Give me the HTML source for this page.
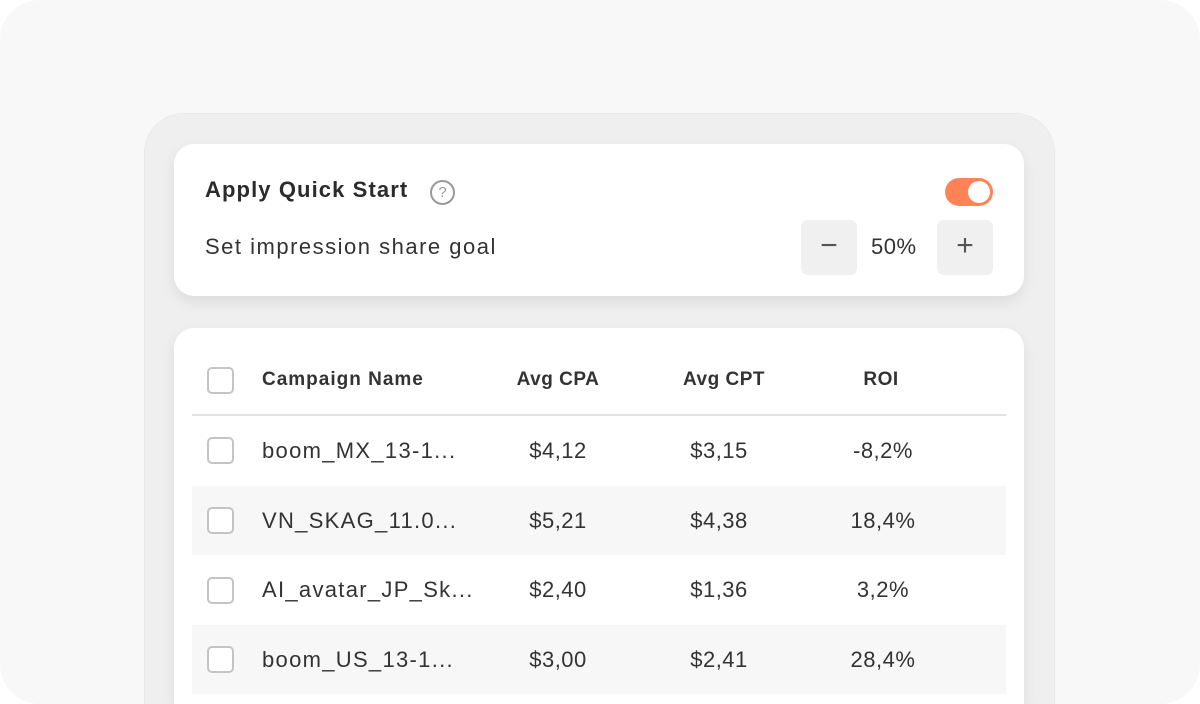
<!DOCTYPE html><html style="width:1200px;height:704px;overflow:hidden"><head><style>
*{box-sizing:border-box;margin:0;padding:0}
body{width:1200px;height:704px;background:#fff;font-family:"Liberation Sans",sans-serif;color:#333;overflow:hidden;position:relative}
.outer{position:absolute;left:0;top:0;width:1200px;height:704px;background:#f8f8f8;border-radius:40px;overflow:hidden}
.panel{position:absolute;left:144px;top:113px;width:911px;height:591px;background:#efefef;border-radius:40px 40px 0 0;border:1px solid #e9e9e9;border-bottom:none}
.card{position:absolute;left:174px;width:850px;background:#fff;border-radius:20px;box-shadow:0 6px 14px rgba(0,0,0,.08)}
.t{position:absolute;white-space:nowrap}
.cb{position:absolute;left:207px;width:27px;height:27px;border:2px solid #c4c4c4;border-radius:5px;background:#fff}
.btn{position:absolute;top:220px;width:56px;height:55px;background:#f0f0f0;border-radius:7px;font-size:30px;color:#555;text-align:center;line-height:52px}
.row{position:absolute;left:192px;width:814px;height:69px;background:#f7f7f7}
.c{position:absolute;font-size:22px;color:#333;text-align:center;width:160px;letter-spacing:.5px}
.n{font-size:22px;letter-spacing:1.3px}
</style></head><body>
<div class="outer">
<div class="panel"></div>
<div class="card" style="top:144px;height:152px"></div>
<div class="t" style="left:205px;top:177px;font-size:22px;font-weight:bold;color:#2b2b2b;letter-spacing:1.1px">Apply Quick Start</div>
<div class="t" style="left:430px;top:180px;width:25px;height:25px;border:2px solid #999;border-radius:50%;font-size:15px;color:#999;text-align:center;line-height:21px">?</div>
<div class="t" style="left:945px;top:178px;width:48px;height:28px;background:#ff8357;border-radius:14px"><div style="position:absolute;right:3px;top:3px;width:22px;height:22px;background:#fff;border-radius:50%"></div></div>
<div class="t" style="left:205px;top:234px;font-size:22px;color:#333;letter-spacing:1.5px">Set impression share goal</div>
<div class="btn" style="left:801px">−</div>
<div class="t" style="left:871px;top:234px;font-size:22px;color:#333;letter-spacing:.5px">50%</div>
<div class="btn" style="left:937px">+</div>
<div class="card" style="top:328px;height:376px;border-radius:20px 20px 0 0"></div>
<div class="cb" style="top:367px"></div>
<div class="t" style="left:262px;top:369px;font-size:19px;font-weight:bold;color:#333;letter-spacing:1px">Campaign Name</div>
<div class="c" style="left:478px;top:369px;font-size:19px;font-weight:bold">Avg CPA</div>
<div class="c" style="left:644px;top:369px;font-size:19px;font-weight:bold">Avg CPT</div>
<div class="c" style="left:801px;top:369px;font-size:19px;font-weight:bold">ROI</div>
<div class="t" style="left:192px;top:414px;width:814px;height:2px;background:#e2e2e2"></div>
<div class="row" style="top:486px"></div>
<div class="row" style="top:625px"></div>
<div class="cb" style="top:437px"></div>
<div class="t n" style="left:262px;top:438px">boom_MX_13-1...</div>
<div class="c" style="left:478px;top:438px">$4,12</div><div class="c" style="left:639px;top:438px">$3,15</div><div class="c" style="left:803px;top:438px">-8,2%</div>
<div class="cb" style="top:507px"></div>
<div class="t n" style="left:262px;top:508px">VN_SKAG_11.0...</div>
<div class="c" style="left:478px;top:508px">$5,21</div><div class="c" style="left:639px;top:508px">$4,38</div><div class="c" style="left:803px;top:508px">18,4%</div>
<div class="cb" style="top:577px"></div>
<div class="t n" style="left:262px;top:577px">AI_avatar_JP_Sk...</div>
<div class="c" style="left:478px;top:577px">$2,40</div><div class="c" style="left:639px;top:577px">$1,36</div><div class="c" style="left:803px;top:577px">3,2%</div>
<div class="cb" style="top:646px"></div>
<div class="t n" style="left:262px;top:647px">boom_US_13-1...</div>
<div class="c" style="left:478px;top:647px">$3,00</div><div class="c" style="left:639px;top:647px">$2,41</div><div class="c" style="left:803px;top:647px">28,4%</div>
</div>
</body></html>
